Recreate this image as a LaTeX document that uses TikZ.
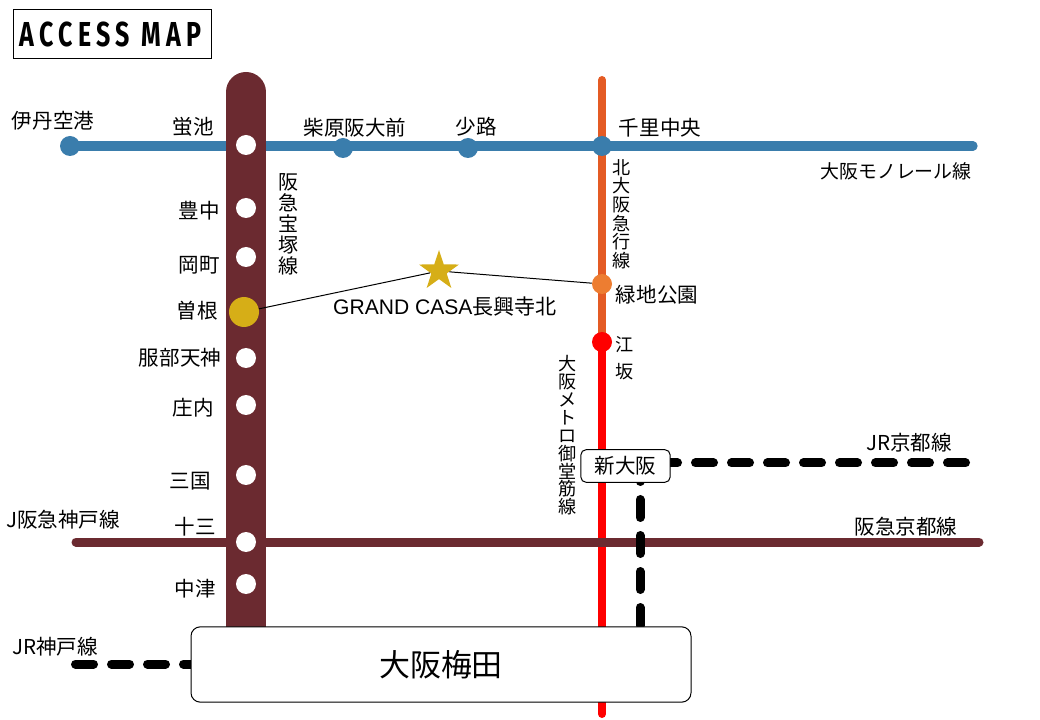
\documentclass[tikz,border=0pt]{standalone}
\usepackage{fontspec, graphicx}
\usetikzlibrary{backgrounds, shapes.geometric}
\setmainfont{Liberation Sans}
\newfontfamily\jpfont{Noto Sans CJK JP}
\newfontfamily\titlefont{Fira Sans}[LetterSpace=21]
\definecolor{hankyu}{HTML}{6B2A30}
\definecolor{mono}{HTML}{3A7DAC}
\definecolor{kita}{HTML}{E45B24}
\definecolor{green park}{HTML}{ED7D31}
\definecolor{gold}{HTML}{D6AE17}

\tikzset{
  stop/.style={circle, fill=white, inner sep=0pt, minimum size=15pt},
  monostop/.style={circle, fill=mono, inner sep=0pt, minimum size=15pt},
  box/.style={draw=black, line width=0.75pt, fill=white, rounded corners=7pt, inner sep=0pt},
  jp/.style={inner sep=0pt, font=\fontsize{15.4}{17}\selectfont\jpfont},
  jpv/.style={inner sep=0pt, align=center, font=\fontsize{13.6}{#1}\selectfont\jpfont},
  railway/.style={line cap=round, line width=#1},
  jrline/.style={line cap=round, line width=6.75pt, dash pattern=on 13.5pt off 13.5pt},
  leader/.style={line width=0.75pt}
}

\begin{document}
\begin{tikzpicture}[x=0.75pt, y=-0.75pt]
\useasboundingbox (0,0) rectangle (1040,720);

% Title
\node[draw=black, line width=0.75pt, minimum width=149pt, minimum height=37pt, inner sep=0pt] (title) at (112.5,34)
  {\fontsize{26}{28}\selectfont\titlefont\bfseries\hspace{-3pt}\scalebox{0.72}[1]{ACCESS MAP}};

% Stations on the trunk
\node[stop] (hotarugaike) at (246,145) {};
\node[stop] (toyonaka) at (246,208) {};
\node[stop] (okamachi) at (246,257) {};
\node[circle, fill=gold, inner sep=0pt, minimum size=22.5pt] (sone) at (244,312) {};
\node[stop] (hattori) at (246,358) {};
\node[stop] (shonai) at (246,405) {};
\node[stop] (mikuni) at (246,475) {};
\node[stop] (juso) at (246,542) {};
\node[stop] (nakatsu) at (246,584) {};

% Monorail stations
\node[monostop] (itami) at (70,146) {};
\node[monostop] (shibahara) at (343,148) {};
\node[monostop] (shoji) at (468,148) {};
\node[monostop] (senri) at (602,146) {};

% Stations on the north-south line
\node[circle, fill=green park, inner sep=0pt, minimum size=15pt] (ryokuchi) at (602,284) {};
\node[circle, fill=red, inner sep=0pt, minimum size=15pt] (esaka) at (602,342) {};

% Boxes
\node[box, minimum width=67pt, minimum height=24.5pt, rounded corners=4pt, font=\fontsize{15.4}{17}\selectfont\jpfont] (shinosaka) at (625.5,466) {新大阪};
\node[box, minimum width=375pt, minimum height=56.5pt, font=\fontsize{23.2}{26}\selectfont\jpfont] (umeda) at (441,664.5) {\raisebox{1pt}{大阪梅田}};

% Star
\node[star, star points=5, star point ratio=2.6, fill=gold, inner sep=0pt, minimum size=31.5pt] (casa) at (439,271) {};

% Free ends
\coordinate (monoEnd) at (973,146);
\coordinate (hankyuTop) at (246,92);
\coordinate (hankyuEnd) at (246,640);
\coordinate (kitaTop) at (602,80);
\coordinate (redEnd) at (602,714);
\coordinate (kobeStart) at (76,542);
\coordinate (kyotoEnd) at (979,542);
\coordinate (jrKyotoEnd) at (968,463);
\coordinate (jrKobeStart) at (75.5,664);
\coordinate (umedaKobe) at (191,664);
\coordinate (umedaJr) at (640,627);
\coordinate (shinKyoto) at (659.5,463);
\coordinate (shinDown) at (640,463.5);

% Lines
\begin{scope}[on background layer]
\draw[mono, railway=7pt] (itami.center) -- (monoEnd);
\draw[red, railway=6pt] (esaka.center) -- (redEnd);
\draw[kita, railway=6pt] (kitaTop) -- (esaka.center);
\draw[hankyu, railway=6.75pt] (kobeStart) -- (kyotoEnd);
\draw[hankyu, railway=30pt] (hankyuTop) -- (hankyuEnd);
\draw[jrline] (shinKyoto) -- (jrKyotoEnd);
\draw[jrline] (shinDown) -- (umedaJr);
\draw[jrline] (jrKobeStart) -- (umedaKobe);
\end{scope}

% Leader lines
\draw[leader] (sone) -- (casa);
\draw[leader] (casa) -- (ryokuchi);

% Labels
\node[jp] (lItami) at (53,121) {伊丹空港};
\node[jp] (lHotaru) at (193,127) {蛍池};
\node[jp] (lShiba) at (355,128) {柴原阪大前};
\node[jp] (lShoji) at (476,127) {少路};
\node[jp] (lSenri) at (660,128) {千里中央};
\node[jp, font=\fontsize{14.2}{16}\selectfont\jpfont] (lMono) at (896,171) {大阪モノレール線};
\node[jp] (lToyo) at (199,211) {豊中};
\node[jp] (lOka) at (199,265) {岡町};
\node[jp] (lSone) at (197,311) {曽根};
\node[jp] (lHattori) at (180,358) {服部天神};
\node[jp] (lShonai) at (193,408) {庄内};
\node[jp] (lMikuni) at (190,481) {三国};
\node[jp] (lJuso) at (195,527) {十三};
\node[jp] (lNaka) at (195,589) {中津};
\node[jp] (lKobe) at (63,520) {J阪急神戸線};
\node[jp] (lJrKobe) at (55,647) {JR神戸線};
\node[jp] (lJrKyoto) at (909,443) {JR京都線};
\node[jp] (lKyoto) at (906,527) {阪急京都線};
\node[jp] (lRyoku) at (657,295) {緑地公園};
\node[jp, font=\fontsize{15.8}{17}\selectfont\jpfont] (lCasa) at (445,307) {{\rmfamily GRAND CASA}長興寺北};

% Vertical labels
\node[jpv=15.75, font=\fontsize{15}{15.75}\selectfont\jpfont] (lTakara) at (288,224.5) {阪\\急\\宝\\塚\\線};
\node[jpv=14] (lKita) at (622,214) {北\\大\\阪\\急\\行\\線};
\node[jpv=13.4] (lMido) at (568,435.5) {大\\阪\\メ\\ト\\ロ\\御\\堂\\筋\\線};
\node[jpv=20] (lEsaka) at (625,358.5) {江\\坂};

\end{tikzpicture}
\end{document}
